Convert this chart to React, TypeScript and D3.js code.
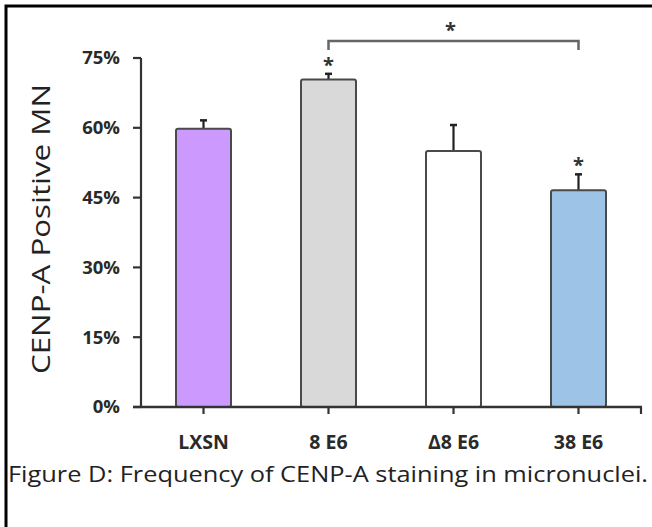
import React from "react";
import * as d3 from "d3";

const categories = ["LXSN", "8 E6", "Δ8 E6", "38 E6"];
const values = [59.8, 70.4, 55.0, 46.6];
const errors = [1.8, 1.2, 5.6, 3.4];
const fills = ["#CC99FF", "#D9D9D9", "#FFFFFF", "#9DC3E6"];
const significant = [false, true, false, true];
const yTicks = [0, 15, 30, 45, 60, 75];
const bracketPair = ["8 E6", "38 E6"];

const W = 652;
const H = 527;
const FONT = "'Open Sans', 'Liberation Sans', sans-serif";

export default function App() {
  const x = d3.scaleBand<string>().domain(categories).range([141, 641]).paddingInner(0.56).paddingOuter(0.28);
  const y = d3.scaleLinear().domain([0, 75]).range([407, 58]);
  const bw = x.bandwidth();
  const cx = (c: string) => (x(c) as number) + bw / 2;
  const axisColor = "#333";
  const barStroke = "#4a4a4a";

  const bx1 = cx(bracketPair[0]);
  const bx2 = cx(bracketPair[1]);
  const bracketY = 41;

  return (
    <svg width={W} height={H} style={{ position: "absolute", left: 0, top: 0, background: "#fff" }}>
      <rect x={6} y={6} width={700} height={600} fill="#fff" stroke="#000" strokeWidth={3} />

      {/* y-axis title */}
      <text
        transform={`translate(50,229) rotate(-90)`}
        textAnchor="middle"
        fontFamily={FONT}
        fontSize={25}
        fill="#222"
        textLength={290}
        lengthAdjust="spacingAndGlyphs"
      >
        CENP-A Positive MN
      </text>

      {/* bars */}
      {categories.map((c, i) => (
        <g key={c}>
          <line x1={cx(c)} x2={cx(c)} y1={y(values[i])} y2={y(values[i] + errors[i])} stroke="#222" strokeWidth={2.2} />
          <line x1={cx(c) - 3.5} x2={cx(c) + 3.5} y1={y(values[i] + errors[i])} y2={y(values[i] + errors[i])} stroke="#222" strokeWidth={2.5} />
          <rect
            x={x(c)}
            y={y(values[i])}
            width={bw}
            height={y(0) - y(values[i])}
            fill={fills[i]}
            stroke={barStroke}
            strokeWidth={2}
            rx={2}
          />
          {significant[i] && (
            <text x={cx(c)} y={y(values[i] + errors[i]) - 2} textAnchor="middle" fontFamily={FONT} fontSize={20} fontWeight="bold" fill="#333">
              *
            </text>
          )}
        </g>
      ))}

      {/* y axis */}
      <line x1={141} x2={141} y1={y(75)} y2={y(0)} stroke={axisColor} strokeWidth={2.2} />
      {yTicks.map((t) => (
        <g key={t}>
          <line x1={133} x2={141} y1={y(t)} y2={y(t)} stroke={axisColor} strokeWidth={2.2} />
          <text x={120} y={y(t)} dy="0.35em" textAnchor="end" fontFamily={FONT} fontSize={18.5} fontWeight="bold" fill="#2a2a2a">
            {t}%
          </text>
        </g>
      ))}

      {/* x axis */}
      <line x1={133} x2={642} y1={y(0)} y2={y(0)} stroke={axisColor} strokeWidth={2.6} />
      {categories.map((c) => (
        <line key={c} x1={cx(c)} x2={cx(c)} y1={y(0)} y2={y(0) + 7} stroke={axisColor} strokeWidth={2.2} />
      ))}
      <line x1={641} x2={641} y1={y(0)} y2={y(0) + 7} stroke={axisColor} strokeWidth={2.2} />
      {categories.map((c) => (
        <text key={c} x={cx(c)} y={449} textAnchor="middle" fontFamily={FONT} fontSize={19.5} fontWeight="bold" fill="#2a2a2a">
          {c}
        </text>
      ))}

      {/* significance bracket */}
      <path
        d={`M${bx1},${bracketY + 9} L${bx1},${bracketY} L${bx2},${bracketY} L${bx2},${bracketY + 9}`}
        fill="none"
        stroke="#666"
        strokeWidth={2.5}
      />
      <text x={(bx1 + bx2) / 2 - 3} y={bracketY - 4} textAnchor="middle" fontFamily={FONT} fontSize={20} fontWeight="bold" fill="#333">
        *
      </text>

      {/* caption */}
      <text x={8} y={482} fontFamily={FONT} fontSize={21} fill="#222" textLength={640} lengthAdjust="spacingAndGlyphs">
        Figure D: Frequency of CENP-A staining in micronuclei.
      </text>
    </svg>
  );
}
